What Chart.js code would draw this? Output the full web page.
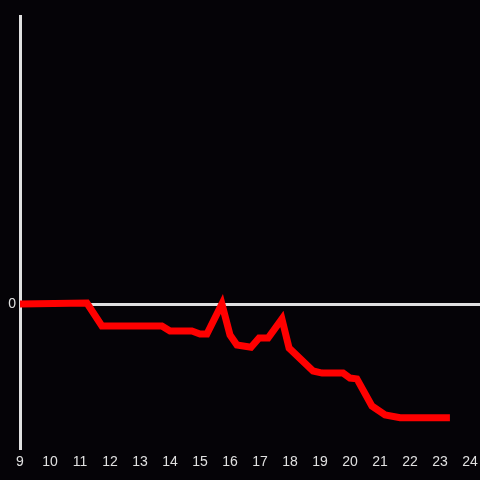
<!DOCTYPE html>
<html lang="en">
<head>
    <meta charset="UTF-8">
    <title>Line</title>
    <script src="https://cdn.jsdelivr.net/npm/chart.js"></script>
    <style>
        html, body { margin: 0; padding: 0; background: #050307; }
        .wrap { width: 480px; height: 480px; position: relative; }
    </style>
</head>
<body>
    <div class="wrap"><canvas id="c"></canvas></div>
    <script>
        const hours = [9, 11.23, 11.73, 13.73, 14.0, 14.73, 15.0, 15.23, 15.73, 16.0, 16.23, 16.7, 16.97, 17.27, 17.73, 17.97, 18.77, 19.07, 19.77, 20.0, 20.23, 20.73, 21.17, 21.67, 23.33];
        const values = [0, 0.007, -0.153, -0.153, -0.188, -0.188, -0.208, -0.208, 0, -0.215, -0.285, -0.3, -0.236, -0.236, -0.104, -0.306, -0.465, -0.48, -0.48, -0.514, -0.52, -0.708, -0.77, -0.79, -0.79];
        const xTicks = [9, 10, 11, 12, 13, 14, 15, 16, 17, 18, 19, 20, 21, 22, 23, 24];

        const axisColor = '#e0e0e0';

        new Chart(document.getElementById('c'), {
            type: 'line',
            data: {
                datasets: [{
                    data: hours.map((h, i) => ({ x: h, y: values[i] })),
                    borderColor: '#ff0000',
                    borderWidth: 7,
                    pointRadius: 0,
                    fill: false,
                    tension: 0
                }]
            },
            options: {
                responsive: true,
                maintainAspectRatio: false,
                animation: false,
                layout: { padding: { top: 16, right: 0, left: 0, bottom: 0 } },
                plugins: { legend: { display: false }, tooltip: { enabled: false } },
                scales: {
                    x: {
                        type: 'linear',
                        min: 9,
                        max: 24.333,
                        afterBuildTicks: (s) => { s.ticks = xTicks.map(v => ({ value: v })); },
                        afterFit: (s) => { s.height = 32; s.paddingLeft = 0; s.paddingRight = 0; },
                        grid: { display: false, drawTicks: false },
                        border: { display: false },
                        ticks: {
                            color: axisColor,
                            font: { family: 'Liberation Sans', size: 14 },
                            padding: 6,
                            maxRotation: 0,
                            autoSkip: false
                        }
                    },
                    y: {
                        min: -1,
                        max: 2,
                        afterBuildTicks: (s) => { s.ticks = [{ value: 0 }]; },
                        afterFit: (s) => { s.width = 20; s.paddingTop = 0; s.paddingBottom = 0; },
                        grid: {
                            drawTicks: false,
                            color: axisColor,
                            lineWidth: 3
                        },
                        border: { display: true, color: axisColor, width: 3 },
                        ticks: {
                            color: axisColor,
                            font: { family: 'Liberation Sans', size: 14 },
                            padding: 4
                        }
                    }
                }
            }
        });
    </script>
</body>
</html>
